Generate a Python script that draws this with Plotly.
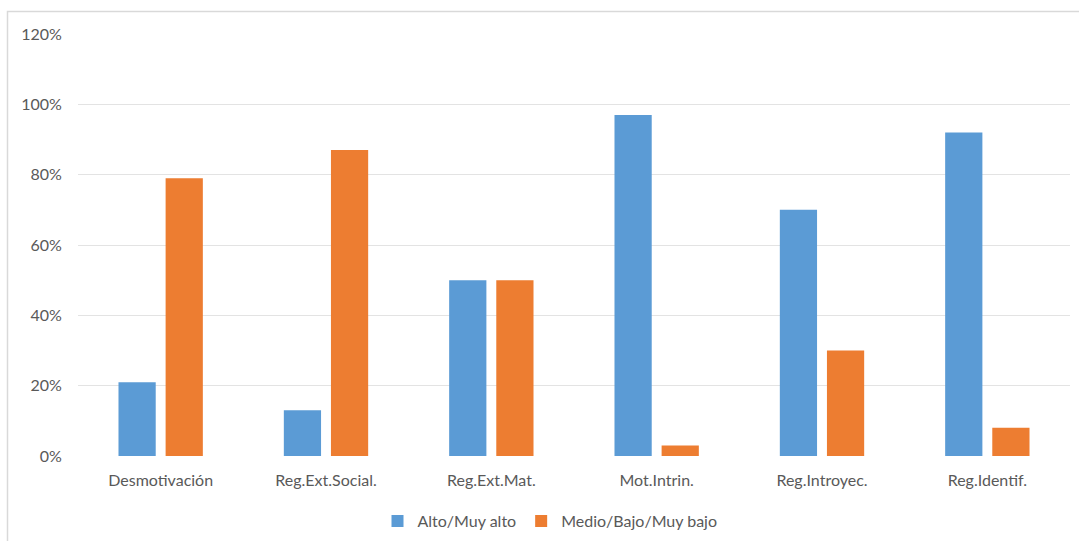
import plotly.graph_objects as go

categories = ["Desmotivación", "Reg.Ext.Social.", "Reg.Ext.Mat.", "Mot.Intrin.", "Reg.Introyec.", "Reg.Identif."]
alto = [21, 13, 50, 97, 70, 92]
medio = [79, 87, 50, 3, 30, 8]
series_names = ["Alto/Muy alto", "Medio/Bajo/Muy bajo"]
y_ticks = [0, 20, 40, 60, 80, 100, 120]

font_family = "Lato, 'Open Sans', sans-serif"
text_color = "#595959"

fig = go.Figure()
fig.add_trace(go.Bar(x=categories, y=alto, name=series_names[0], marker=dict(color="#5B9BD5", line=dict(width=0))))
fig.add_trace(go.Bar(x=categories, y=medio, name=series_names[1], marker=dict(color="#ED7D31", line=dict(width=0))))

W, H = 1079, 541
PL, PR, PT, PB = 78, 1070, 34, 456
L, T, R, B = PL, PT, W - PR, H - PB
pw = W - L - R
ph = H - T - B

def px_x(p):
    return (p - PL) / pw

def px_y(p):
    return (PB - p) / ph

fig.update_layout(
    width=W, height=H,
    margin=dict(l=L, r=R, t=T, b=B, autoexpand=False),
    paper_bgcolor="white", plot_bgcolor="white",
    barmode="group", bargap=0.43, bargroupgap=0.21,
    font=dict(family=font_family, size=16, color=text_color),
    showlegend=True,
    legend=dict(orientation="h", x=px_x(550), xanchor="center", y=px_y(521), yanchor="middle",
                font=dict(size=16, color=text_color), itemwidth=30, traceorder="normal"),
    xaxis=dict(showgrid=False, zeroline=False, showline=False, ticks="outside", ticklen=10,
               tickcolor="rgba(0,0,0,0)", tickfont=dict(size=16, color=text_color), automargin=False),
    yaxis=dict(range=[0, 120], tickvals=y_ticks, ticktext=[f"{v}%" for v in y_ticks],
               showgrid=True, gridcolor="#E3E3E3", gridwidth=1, zeroline=False, showline=False,
               ticks="outside", ticklen=12, tickcolor="rgba(0,0,0,0)",
               tickfont=dict(size=16, color=text_color), automargin=False),
    shapes=[dict(type="rect", xref="paper", yref="paper",
                 x0=px_x(7.5), x1=px_x(1090), y0=px_y(560), y1=px_y(11.5),
                 line=dict(color="#D9D9D9", width=1.5), fillcolor="rgba(0,0,0,0)", layer="below")],
)

fig.write_html("out.html", config={"displayModeBar": False},
               post_script="document.body.style.margin='0px';document.body.style.overflow='hidden';")
